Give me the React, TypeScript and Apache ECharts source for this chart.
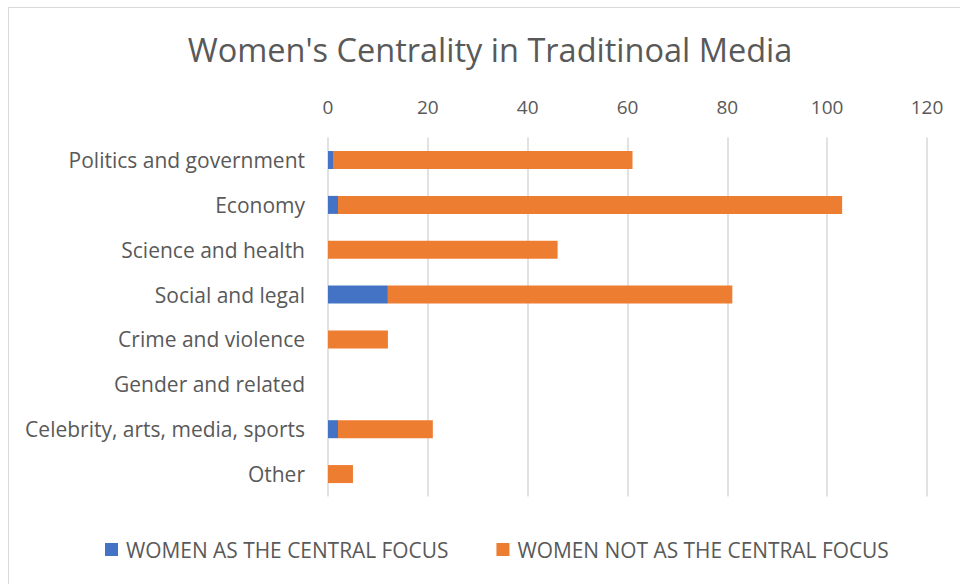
import React, { useEffect, useRef } from "react";
import * as echarts from "echarts";

const categories = [
  "Politics and government",
  "Economy",
  "Science and health",
  "Social and legal",
  "Crime and violence",
  "Gender and related",
  "Celebrity, arts, media, sports",
  "Other",
];
const centralFocus = [1, 2, 0, 12, 0, 0, 2, 0];
const notCentralFocus = [60, 101, 46, 69, 12, 0, 19, 5];
const seriesNames = ["WOMEN AS THE CENTRAL FOCUS", "WOMEN NOT AS THE CENTRAL FOCUS"];
const titleText = "Women's Centrality in Traditinoal Media";

const FONT = "'Open Sans', 'Noto Sans', sans-serif";
const TXT = "#595959";

export default function App() {
  const ref = useRef<HTMLDivElement>(null);
  useEffect(() => {
    if (!ref.current) return;
    const chart = echarts.init(ref.current, null, { renderer: "svg" });
    chart.setOption({
      animation: false,
      backgroundColor: "transparent",
      title: {
        text: titleText,
        left: 485,
        textAlign: "center",
        top: 28,
        textStyle: { fontFamily: FONT, fontSize: 32.5, fontWeight: "normal", color: TXT },
      },
      legend: {
        data: seriesNames,
        left: 105,
        top: 539,
        padding: 0,
        itemWidth: 13,
        itemHeight: 13,
        itemGap: 48,
        icon: "rect",
        textStyle: { fontFamily: FONT, fontSize: 20.9, color: TXT, padding: [0, 0, 0, 3] },
      },
      grid: { left: 328, right: 33, top: 137.6, bottom: 87.5 },
      xAxis: {
        type: "value",
        position: "top",
        min: 0,
        max: 120,
        interval: 20,
        axisLine: { show: false },
        axisTick: { show: false },
        axisLabel: { fontFamily: FONT, fontSize: 19, color: TXT, margin: 21 },
        splitLine: { lineStyle: { color: "#d9d9d9", width: 1.5 } },
      },
      yAxis: {
        type: "category",
        data: categories,
        inverse: true,
        axisLine: { show: false },
        axisTick: { show: false },
        axisLabel: { fontFamily: FONT, fontSize: 21, color: TXT, margin: 23 },
      },
      series: [
        {
          name: seriesNames[0],
          type: "bar",
          stack: "total",
          data: centralFocus,
          barWidth: 18,
          itemStyle: { color: "#4472C4" },
        },
        {
          name: seriesNames[1],
          type: "bar",
          stack: "total",
          data: notCentralFocus,
          barWidth: 18,
          itemStyle: { color: "#ED7D31" },
        },
      ],
    });
    return () => chart.dispose();
  }, []);
  return (
    <div style={{ position: "absolute", left: 0, top: 0, width: 960, height: 584, overflow: "hidden", background: "#fff" }}>
      <div
        style={{
          position: "absolute",
          left: 8,
          top: 7,
          width: 1000,
          height: 700,
          borderLeft: "1px solid #d9d9d9",
          borderTop: "1px solid #d9d9d9",
        }}
      />
      <div ref={ref} style={{ position: "absolute", left: 0, top: 0, width: 960, height: 584 }} />
    </div>
  );
}
